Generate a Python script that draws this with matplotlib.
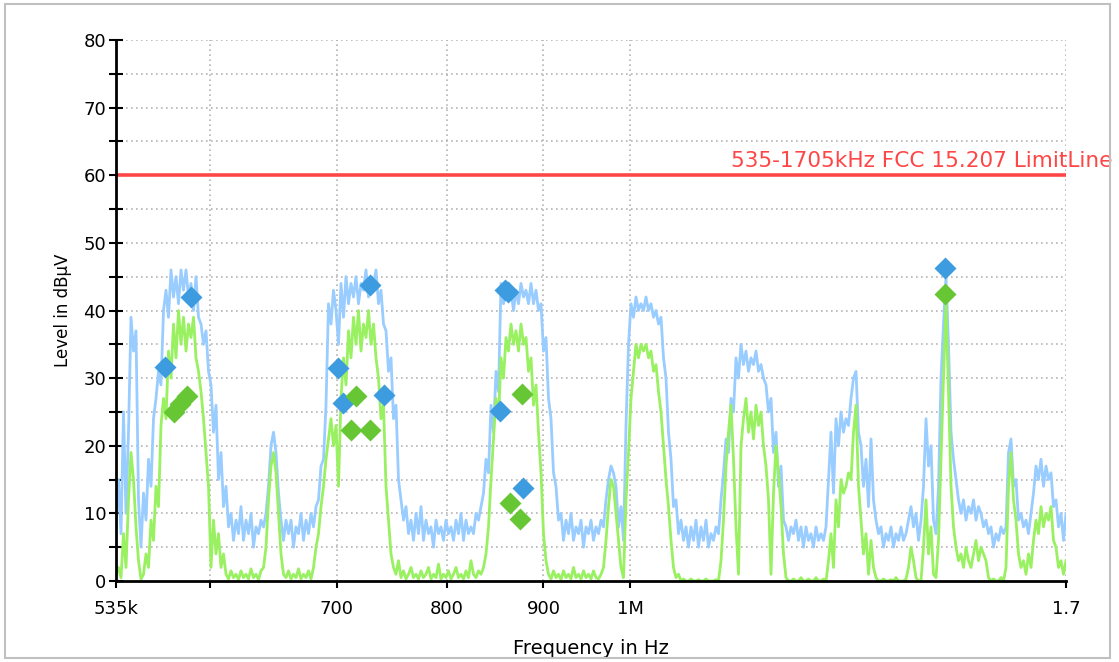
import numpy as np
import matplotlib
matplotlib.use("Agg")
import matplotlib.pyplot as plt
from matplotlib.patches import Rectangle

# peak and average sweeps, level in dBuV, equal log steps from 535 kHz to 1.7 MHz
peak = [8, 15, 7, 25, 10, 22, 39, 34, 37, 12,
        5, 13, 9, 18, 14, 24, 27, 31, 29, 40,
        43, 39, 46, 42, 45, 41, 46, 43, 46, 42,
        44, 40, 45, 39, 38, 35, 37, 31, 29, 22,
        26, 15, 19, 11, 14, 8, 10, 6, 9, 7,
        11, 6, 9, 7, 10, 5, 8, 7, 9, 8,
        10, 14, 20, 22, 19, 13, 9, 6, 9, 7,
        9, 5, 8, 7, 10, 6, 9, 7, 10, 8,
        11, 12, 17, 18, 26, 41, 38, 43, 40, 35,
        44, 39, 45, 41, 44, 42, 45, 41, 44, 43,
        46, 42, 45, 44, 46, 41, 43, 38, 37, 31,
        33, 24, 26, 15, 12, 9, 11, 7, 9, 6,
        10, 7, 11, 6, 9, 7, 8, 5, 9, 7,
        8, 6, 9, 7, 8, 6, 9, 7, 10, 6,
        9, 7, 8, 7, 10, 9, 11, 13, 18, 16,
        26, 22, 31, 28, 44, 41, 44, 42, 43, 40,
        43, 41, 44, 42, 43, 41, 44, 41, 43, 40,
        41, 34, 36, 27, 24, 16, 14, 9, 10, 6,
        9, 7, 10, 6, 8, 7, 9, 5, 8, 7,
        9, 6, 8, 7, 9, 8, 12, 15, 17, 16,
        14, 8, 11, 6, 23, 35, 41, 39, 42, 40,
        41, 40, 42, 40, 41, 39, 40, 38, 39, 33,
        30, 22, 18, 11, 12, 7, 9, 6, 8, 5,
        8, 6, 9, 5, 8, 6, 9, 5, 7, 6,
        8, 7, 12, 16, 21, 19, 27, 25, 33, 30,
        35, 32, 34, 31, 33, 32, 34, 31, 32, 30,
        29, 25, 27, 19, 22, 14, 17, 9, 8, 6,
        8, 7, 9, 6, 8, 5, 8, 6, 7, 5,
        8, 6, 7, 6, 8, 15, 22, 13, 24, 20,
        25, 22, 24, 23, 27, 30, 31, 22, 20, 14,
        18, 11, 21, 12, 9, 7, 8, 5, 7, 6,
        8, 5, 7, 6, 8, 6, 7, 9, 11, 8,
        10, 6, 9, 14, 24, 17, 20, 9, 7, 14,
        30, 38, 45, 35, 22, 18, 15, 12, 10, 12,
        9, 11, 10, 12, 9, 11, 10, 8, 9, 7,
        8, 5, 7, 6, 8, 7, 8, 19, 21, 14,
        15, 9, 10, 8, 9, 7, 10, 13, 17, 15,
        18, 14, 17, 15, 16, 11, 12, 8, 10, 6,
        10]
average = [1, 2, 0.5, 7, 2, 12, 19, 15, 8, 3,
           0.3, 1, 4, 2, 9, 6, 14, 11, 23, 27,
           24, 34, 30, 38, 33, 40, 35, 39, 34, 38,
           36, 39, 33, 31, 28, 24, 19, 14, 2, 9,
           4, 7, 2, 4, 1, 0.3, 1.5, 0.5, 1, 0.2,
           1.5, 0.5, 1, 0.3, 1.8, 0.5, 1, 0.2, 1.5, 2,
           5, 12, 17, 19, 16, 10, 4, 1, 0.5, 1.5,
           0.3, 1, 0.5, 1.8, 0.3, 1, 0.5, 1.5, 0.3, 2,
           5, 7, 11, 14, 18, 21, 24, 20, 23, 14,
           27, 33, 29, 37, 33, 39, 35, 40, 34, 38,
           36, 40, 35, 38, 33, 30, 24, 26, 14, 9,
           4, 2, 1, 3, 0.5, 1.5, 0.3, 1, 2, 0.5,
           1, 0.3, 1.5, 0.5, 1, 2, 0.3, 1, 0.5, 2.5,
           0.3, 1, 0.5, 1.5, 0.3, 1, 2, 0.5, 1, 0.3,
           1.5, 0.5, 3, 1, 0.5, 1.5, 1, 2, 4, 8,
           15, 21, 27, 24, 33, 30, 36, 34, 38, 35,
           37, 34, 38, 35, 36, 31, 33, 26, 29, 22,
           16, 7, 3, 1, 0.3, 1.5, 0.5, 1, 0.2, 1.5,
           0.5, 1, 0.3, 2, 0.5, 1, 0.3, 1.5, 0.5, 1,
           0.3, 1.5, 0.5, 0.3, 1, 2, 6, 11, 15, 14,
           10, 6, 2, 0.5, 12, 19, 27, 31, 35, 33,
           35, 34, 35, 33, 34, 31, 32, 28, 25, 20,
           15, 11, 6, 2, 0.5, 1, 0, 0.3, 0, 0,
           0.3, 0, 0, 0.2, 0, 0, 0.3, 0, 0, 0,
           0.2, 0, 3, 9, 17, 22, 26, 18, 8, 1,
           20, 24, 27, 22, 25, 21, 26, 23, 25, 20,
           17, 12, 1, 13, 20, 16, 11, 4, 0.5, 0,
           0, 0.3, 0, 0, 0.5, 0, 0, 0.3, 0, 0,
           0.5, 0, 0, 0.3, 0, 3, 7, 2, 12, 8,
           15, 13, 14, 16, 15, 22, 26, 14, 9, 4,
           7, 1, 6, 2, 0.5, 0, 0, 0.3, 0, 0,
           0.2, 0, 0.5, 0, 0, 0, 0.3, 2, 5, 3,
           0.5, 0, 0, 5, 12, 4, 8, 1, 0.5, 6,
           18, 30, 41, 28, 14, 8, 5, 3, 4, 2,
           5, 3, 2, 4, 6, 3, 5, 4, 3, 0.5,
           0, 0.3, 0, 0, 0.5, 0, 2, 14, 19, 12,
           9, 4, 2, 3, 1, 4, 2, 6, 9, 7,
           11, 8, 10, 9, 11, 6, 5, 2, 3, 1,
           3]

# final measurement points (frequency in kHz, level)
qp_freq = [567.9, 586.1, 701.0, 705.2, 728.8, 741.3, 853.7, 858.5, 862.5, 877.5, 1467.2]
qp_level = [31.6, 42.0, 31.5, 26.3, 43.8, 27.5, 25.2, 43.1, 42.8, 13.7, 46.3]
av_freq = [574.1, 578.5, 583.3, 711.9, 716.5, 728.8, 864.1, 874.7, 876.9, 1467.2]
av_level = [25.0, 26.2, 27.3, 22.3, 27.3, 22.3, 11.6, 9.2, 27.7, 42.4]

limit_level = 60
limit_label = "535-1705kHz FCC 15.207 LimitLine"

xtick_vals = [535e3, 600e3, 700e3, 800e3, 900e3, 1e6, 1.7e6]
xtick_text = ["535k", "", "700", "800", "900", "1M", "1.7"]

plt.rcParams['font.family'] = ['DejaVu Sans']

fig = plt.figure(figsize=(11.19, 6.62), dpi=100)
ax = fig.add_axes([116 / 1119, 1 - 581 / 662, 950 / 1119, 541 / 662])

f_peak = np.geomspace(535e3, 1.7e6, len(peak))
f_avg = np.geomspace(535e3, 1.7e6, len(average))

ax.plot(f_peak, peak, color="#99ccff", lw=2.0, zorder=3)
ax.plot(f_avg, average, color="#99f060", lw=2.0, zorder=4)
ax.plot([535e3, 1.7e6], [limit_level, limit_level], color="#ff4646", lw=2.6,
        zorder=5, solid_capstyle="butt")
ax.text(1.131e6, limit_level + 0.6, limit_label, color="#ff4646", fontsize=15.6,
        ha="left", va="bottom", clip_on=False)

ax.plot(np.array(qp_freq) * 1e3, qp_level, ls="none", marker="D", ms=11,
        color="#3d9be0", mec="none", zorder=6)
ax.plot(np.array(av_freq) * 1e3, av_level, ls="none", marker="D", ms=11,
        color="#66c633", mec="none", zorder=6)

ax.set_xscale("log")
ax.set_xlim(535e3, 1.7e6)
ax.set_ylim(0, 80)

ax.set_xticks(xtick_vals)
ax.set_xticklabels(xtick_text)
ax.xaxis.set_minor_locator(matplotlib.ticker.NullLocator())
ax.set_yticks(np.arange(0, 81, 10))
ax.set_yticks(np.arange(5, 80, 10), minor=True)

ax.tick_params(axis="y", which="both", direction="inout", length=10, width=1.5,
               labelsize=13, pad=2)
ax.tick_params(axis="x", which="both", direction="out", length=5, width=1.5,
               labelsize=13, pad=9)

for s in ["top", "right"]:
    ax.spines[s].set_visible(False)
for s in ["left", "bottom"]:
    ax.spines[s].set_linewidth(2)
    ax.spines[s].set_zorder(7)

grid_kw = dict(color="#b4b4b4", lw=1.2, ls=(0, (1, 2)), zorder=1)
for y in range(5, 81, 5):
    ax.axhline(y, **grid_kw)
for x in [600e3, 700e3, 800e3, 900e3, 1e6, 1.7e6]:
    ax.axvline(x, **grid_kw)

ax.set_ylabel("Level in dBµV", fontsize=12, labelpad=8)
ax.set_xlabel("Frequency in Hz", fontsize=14, labelpad=15)

fig.patches.append(Rectangle((5 / 1119, 4 / 662), 1105 / 1119, 654 / 662,
                             transform=fig.transFigure, fill=False,
                             edgecolor="#c0c0c0", lw=1.5))

fig.savefig("out.png", dpi=100)
